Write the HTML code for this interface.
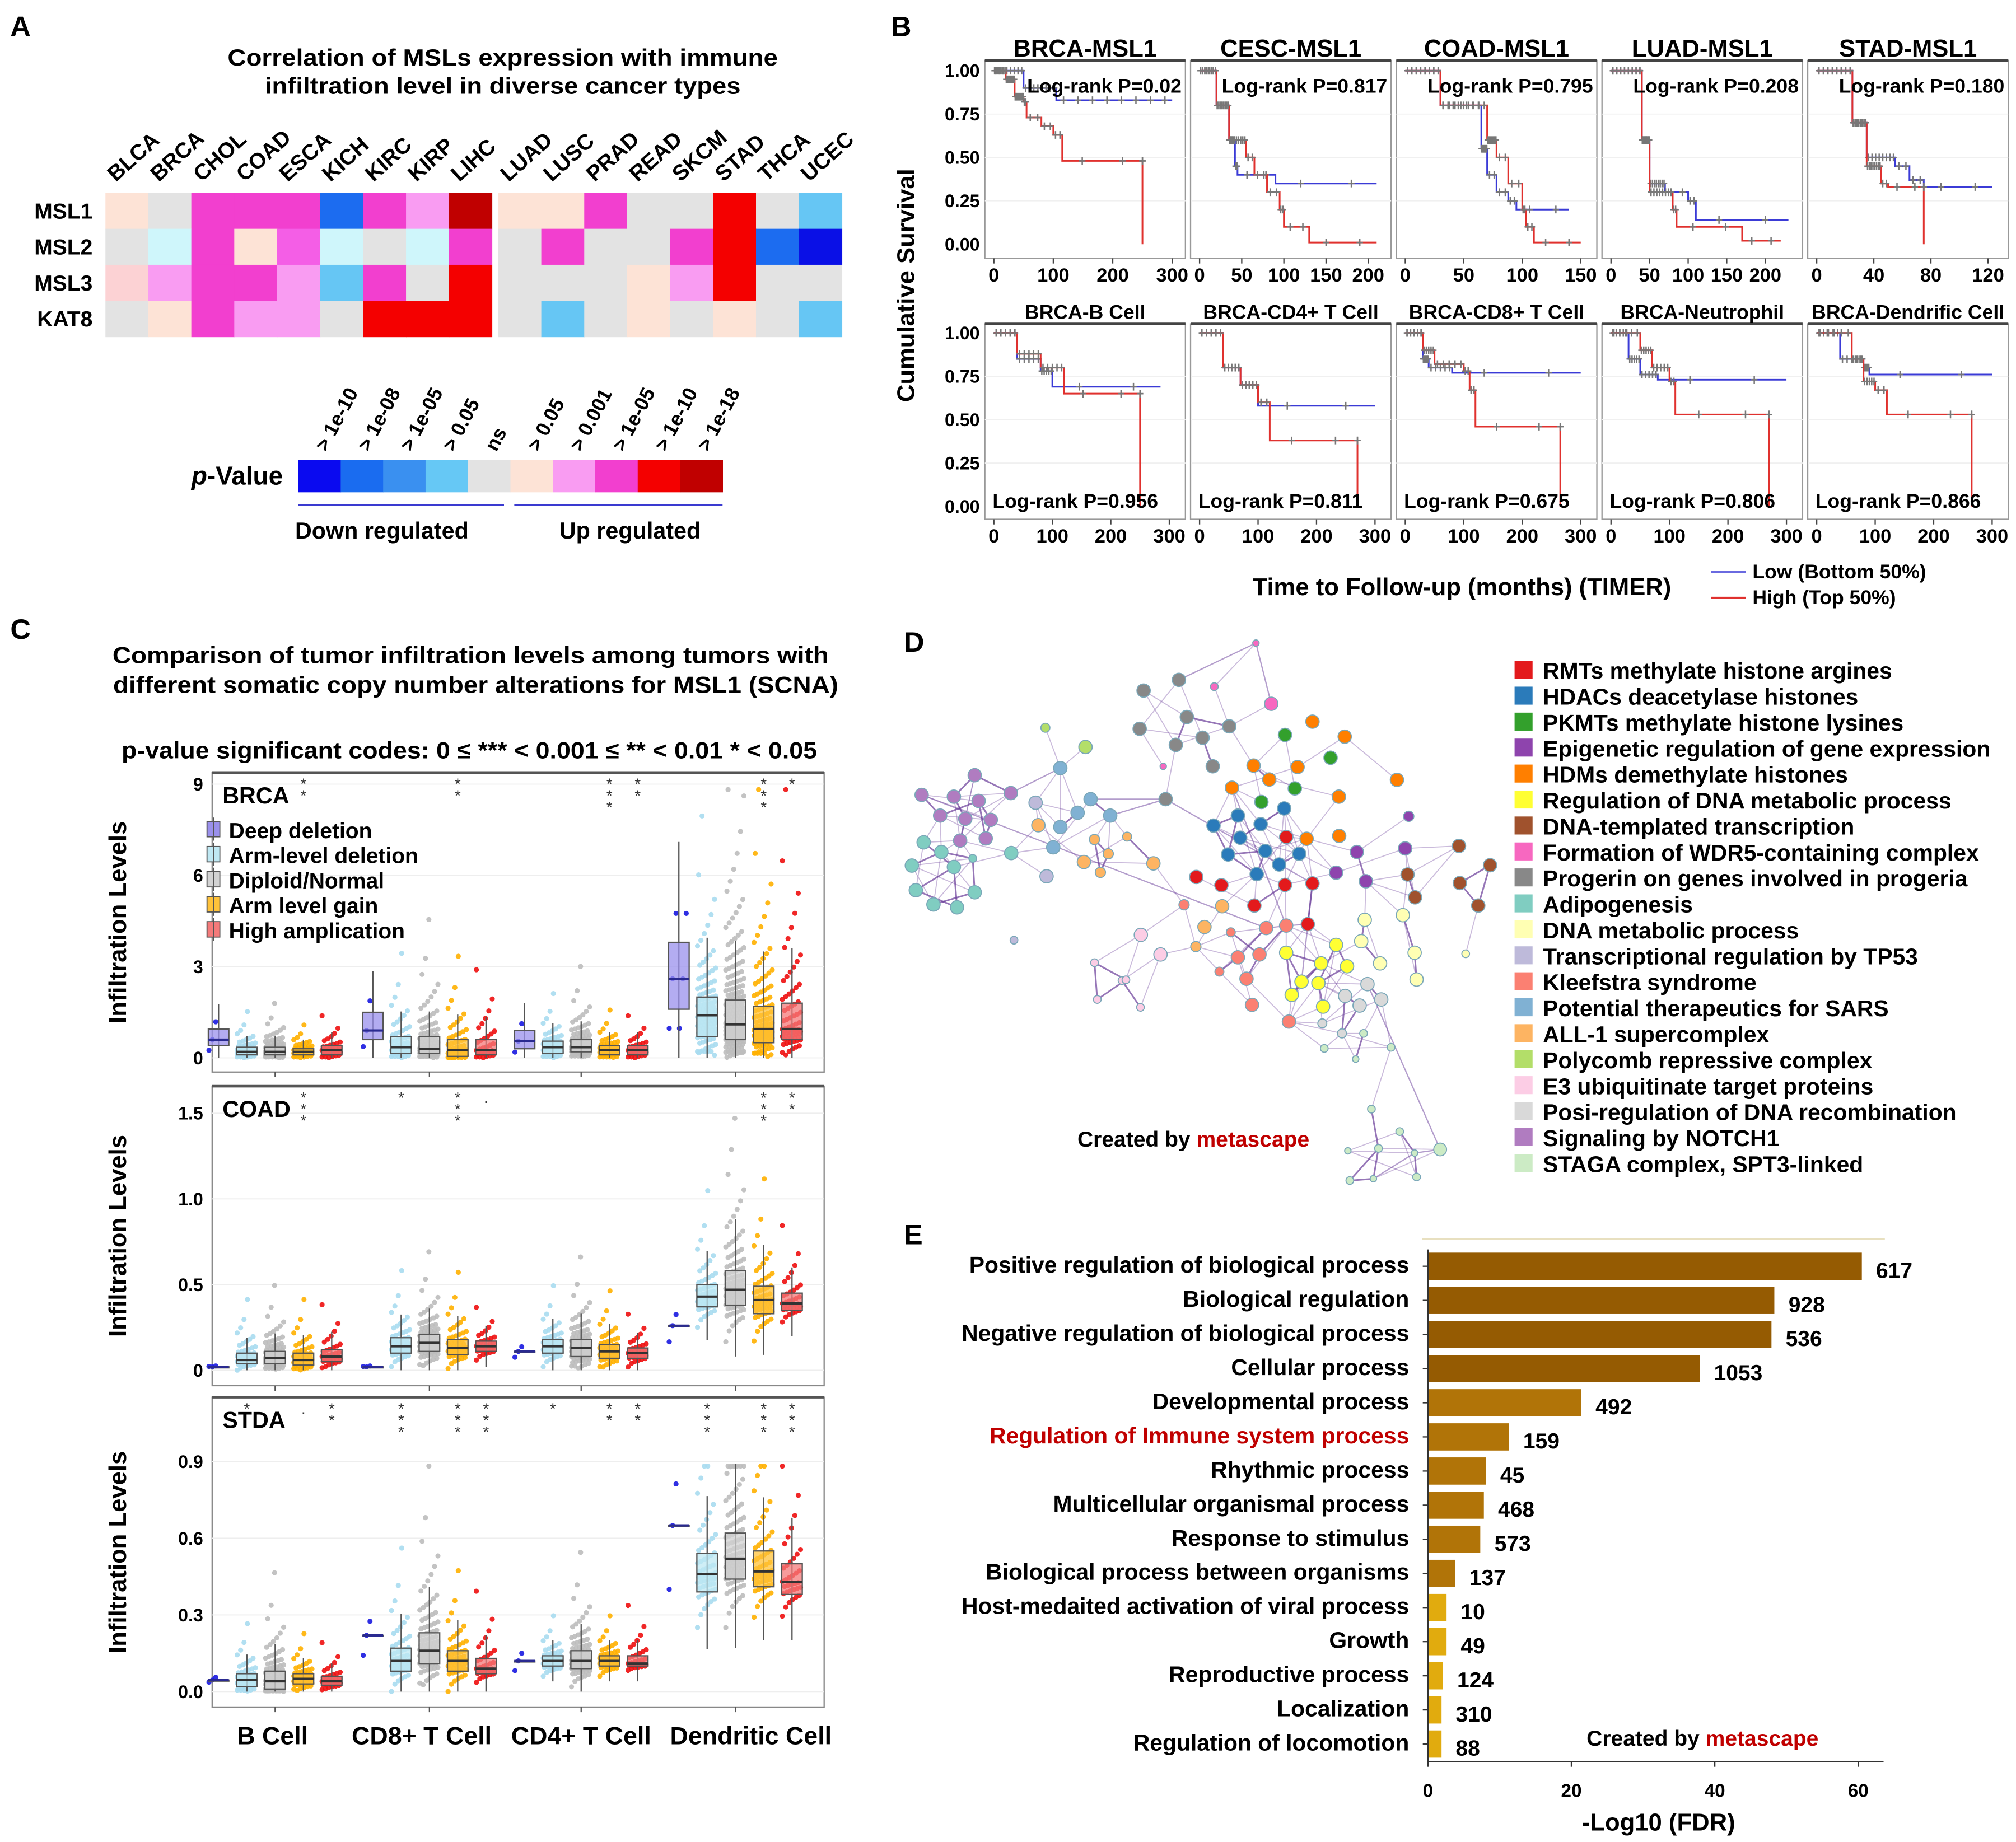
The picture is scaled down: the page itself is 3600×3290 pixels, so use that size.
<!DOCTYPE html>
<html><head><meta charset="utf-8">
<style>
html,body{margin:0;padding:0;background:#fff;}
svg{display:block;font-family:"Liberation Sans",Arial,sans-serif;}
</style></head>
<body>
<svg id="fig" xmlns="http://www.w3.org/2000/svg" width="3600" height="3290" viewBox="0 0 1568 1433" preserveAspectRatio="none">
<rect x="0" y="0" width="1568" height="1433" fill="#fff"/>
<g font-weight="bold" font-size="22">
<text x="8" y="28">A</text>
<text x="693" y="28">B</text>
<text x="8" y="497">C</text>
<text x="703" y="507">D</text>
<text x="703" y="968">E</text>
</g>
<g font-weight="bold" font-size="18" text-anchor="middle">
<text x="391" y="51" textLength="428" lengthAdjust="spacingAndGlyphs">Correlation of MSLs expression with immune</text>
<text x="391" y="73" textLength="370" lengthAdjust="spacingAndGlyphs">infiltration level in diverse cancer types</text>
<text x="366" y="516" textLength="557" lengthAdjust="spacingAndGlyphs">Comparison of tumor infiltration levels among tumors with</text>
<text x="370" y="539" textLength="564" lengthAdjust="spacingAndGlyphs">different somatic copy number alterations for MSL1 (SCNA)</text>
<text x="365" y="590" textLength="541" lengthAdjust="spacingAndGlyphs">p-value significant codes: 0  ≤  *** &lt; 0.001  ≤  ** &lt; 0.01  * &lt; 0.05</text>
</g>
<g id="gA"></g>
<g id="gB"></g>
<g id="gC"></g>
<g id="gD"></g>
<g id="gE"></g>
</svg>
<script>
// ---------- Panel A data ----------
const cancerTypes=["BLCA","BRCA","CHOL","COAD","ESCA","KICH","KIRC","KIRP","LIHC","LUAD","LUSC","PRAD","READ","SKCM","STAD","THCA","UCEC"];
const genes=["MSL1","MSL2","MSL3","KAT8"];
const rowMSL1="p g m m m B m l d p p m g g r g b".split(" ");
const rowMSL2="g c m p n c g c m g m g g m r B D".split(" ");
const rowMSL3="s l m m l b m g r g g g p l r g g".split(" ");
const rowKAT8="g p m l l g r r r g b g p g p g b".split(" ");
const pLegendLabels=["> 1e-10","> 1e-08","> 1e-05","> 0.05","ns","> 0.05","> 0.001","> 1e-05","> 1e-10","> 1e-18"];
// ---------- Panel B data ----------
const kmTitlesTop=["BRCA-MSL1","CESC-MSL1","COAD-MSL1","LUAD-MSL1","STAD-MSL1"];
const kmTitlesBottom=["BRCA-B Cell","BRCA-CD4+ T Cell","BRCA-CD8+ T Cell","BRCA-Neutrophil","BRCA-Dendrific Cell"];
const kmPvalsTop=["0.02","0.817","0.795","0.208","0.180"];
const kmPvalsBottom=["0.956","0.811","0.675","0.806","0.866"];
const kmMaxTop=[305,215,155,235,127];
const kmTicksTop=[[0,100,200,300],[0,50,100,150,200],[0,50,100,150],[0,50,100,150,200],[0,40,80,120]];
const kmTicksBottom=[0,100,200,300];
const lowT=[[0,50,105,300],[0,20,35,42,45,90,210],[0,30,65,70,78,88,95,140],[0,40,50,70,100,110,230],[0,25,35,55,65,75,123],
 [0,40,80,100,285],[0,40,70,100,300],[0,30,40,80,300],[0,30,50,80,300],[0,40,80,90,300]];
const lowS=[[1,0.9,0.83,0.83],[1,0.8,0.6,0.45,0.4,0.35,0.35],[1,0.8,0.55,0.4,0.3,0.25,0.2,0.2],[1,0.6,0.35,0.3,0.25,0.14,0.14],[1,0.7,0.5,0.45,0.37,0.33,0.33],
 [1,0.85,0.78,0.69,0.69],[1,0.8,0.7,0.58,0.58],[1,0.85,0.8,0.77,0.77],[1,0.85,0.76,0.73,0.73],[1,0.85,0.8,0.76,0.76]];
const highT=[[0,20,35,50,55,80,100,115,250,250],[0,20,35,55,65,80,95,100,130,210],[0,30,70,78,88,100,103,110,150],[0,40,50,80,85,170,220],[0,25,35,45,50,75,75],
 [0,40,80,120,250,250],[0,40,70,100,120,270,270],[0,30,50,100,110,120,265,265],[0,50,70,100,110,270,270],[0,60,80,100,120,265,265]];
const highS=[[1,0.95,0.85,0.82,0.73,0.68,0.63,0.48,0.48,0],[1,0.8,0.6,0.5,0.4,0.3,0.2,0.1,0.01,0.01],[1,0.8,0.6,0.5,0.35,0.2,0.1,0.01,0.01],[1,0.6,0.3,0.2,0.1,0.02,0.02],[1,0.7,0.45,0.35,0.33,0.33,0],
 [1,0.88,0.8,0.65,0.65,0],[1,0.8,0.7,0.6,0.38,0.38,0],[1,0.9,0.82,0.78,0.67,0.46,0.46,0],[1,0.9,0.8,0.72,0.53,0.53,0],[1,0.85,0.72,0.67,0.53,0.53,0]];
// ---------- Panel C data ----------
const cellTypes=["B Cell","CD8+ T Cell","CD4+ T Cell","Dendritic Cell"];
const scnaGroups=["Deep deletion","Arm-level deletion","Diploid/Normal","Arm level gain","High amplication"];
const boxTumors=["BRCA","COAD","STDA"];
const brcaQ1=[[0.4,0.1,0.1,0.1,0.1],[0.6,0.15,0.15,0.05,0.1],[0.3,0.15,0.2,0.1,0.1],[1.6,0.7,0.6,0.5,0.6]];
const brcaMed=[[0.6,0.2,0.2,0.2,0.25],[0.9,0.35,0.3,0.25,0.25],[0.55,0.35,0.35,0.25,0.25],[2.6,1.4,1.1,0.95,0.95]];
const brcaQ3=[[0.95,0.35,0.35,0.3,0.4],[1.5,0.7,0.7,0.6,0.6],[0.9,0.55,0.6,0.4,0.4],[3.8,2.0,1.9,1.7,1.8]];
const coadQ1=[[0.02,0.04,0.04,0.03,0.05],[0.02,0.1,0.11,0.09,0.11],[0.11,0.1,0.08,0.07,0.07],[0.26,0.37,0.38,0.33,0.35]];
const coadMed=[[0.02,0.06,0.07,0.06,0.08],[0.02,0.14,0.16,0.13,0.14],[0.11,0.14,0.13,0.11,0.1],[0.26,0.43,0.47,0.41,0.39]];
const coadQ3=[[0.02,0.1,0.11,0.1,0.12],[0.02,0.19,0.21,0.18,0.17],[0.11,0.18,0.18,0.15,0.13],[0.26,0.5,0.58,0.49,0.45]];
const stdaQ1=[[0.045,0.02,0.01,0.03,0.025],[0.22,0.08,0.11,0.08,0.07],[0.12,0.1,0.09,0.1,0.1],[0.65,0.39,0.44,0.41,0.38]];
const stdaMed=[[0.045,0.045,0.04,0.05,0.04],[0.22,0.12,0.16,0.12,0.09],[0.12,0.12,0.12,0.12,0.11],[0.65,0.46,0.52,0.47,0.43]];
const stdaQ3=[[0.045,0.07,0.08,0.07,0.06],[0.22,0.17,0.23,0.16,0.13],[0.12,0.14,0.16,0.14,0.14],[0.65,0.54,0.62,0.55,0.5]];
const yTicksBRCA=[0,3,6,9], yTicksCOAD=[0,0.5,1.0,1.5], yTicksSTDA=[0,0.3,0.6,0.9];
const yTickLabBRCA=["0","3","6","9"], yTickLabCOAD=["0","0.5","1.0","1.5"], yTickLabSTDA=["0.0","0.3","0.6","0.9"];
const starsBRCA=[[0,3,"**"],[1,3,"**"],[2,3,"***"],[2,4,"**"],[3,3,"***"],[3,4,"*"]];
const starsCOAD=[[0,3,"***"],[1,1,"*"],[1,3,"***"],[1,4,"."],[3,3,"***"],[3,4,"**"]];
const starsSTDA=[[0,1,"*"],[0,3,"."],[0,4,"**"],[1,1,"***"],[1,3,"***"],[1,4,"***"],[2,1,"*"],[2,3,"**"],[2,4,"**"],[3,1,"***"],[3,3,"***"],[3,4,"***"]];
// ---------- Panel D data ----------
const legendTerms=["RMTs methylate histone argines","HDACs deacetylase histones","PKMTs methylate histone lysines","Epigenetic regulation of gene expression","HDMs demethylate histones","Regulation of DNA metabolic process","DNA-templated transcription","Formation of WDR5-containing complex","Progerin on genes involved in progeria","Adipogenesis","DNA metabolic process","Transcriptional regulation by TP53","Kleefstra syndrome","Potential therapeutics for SARS","ALL-1 supercomplex","Polycomb repressive complex","E3 ubiquitinate target proteins","Posi-regulation of DNA recombination","Signaling by NOTCH1","STAGA complex, SPT3-linked"];
// ---------- Panel E data ----------
const goTerms=["Positive regulation of biological  process","Biological regulation","Negative regulation of biological process","Cellular process","Developmental process","Regulation of Immune system process","Rhythmic process","Multicellular organismal process","Response to stimulus","Biological process between organisms","Host-medaited activation of viral process","Growth","Reproductive process","Localization","Regulation of locomotion"];
const goFDR=[60.5,48.3,47.9,37.9,21.4,11.3,8.1,7.8,7.3,3.8,2.6,2.6,2.1,1.9,1.9];
const goCounts=[617,928,536,1053,492,159,45,468,573,137,10,49,124,310,88];
const goTicks=[0,20,40,60];

const NS="http://www.w3.org/2000/svg";
function mk(parent,tag,attrs,text){const e=document.createElementNS(NS,tag);for(const k in attrs)e.setAttribute(k,attrs[k]);if(text!==undefined)e.textContent=text;parent.appendChild(e);return e;}

// ================= Panel A =================
(function(){
const g=document.getElementById('gA');
const col={p:"#fde3d6",g:"#e3e3e3",m:"#f23fcf",B:"#1c6cf0",l:"#f99cf2",d:"#c00000",r:"#f40000",b:"#66c6f4",c:"#cff6fb",n:"#f45ee6",s:"#fcd2d4",D:"#0a10e6"};
const rows=[rowMSL1,rowMSL2,rowMSL3,rowKAT8];
const x0=82,cw=33.4,y0=150,rh=28;
function cx(i){return x0+i*cw+(i>=9?5:0);}
rows.forEach((row,r)=>{
  const t=mk(g,'text',{x:72,y:y0+r*rh+20,'text-anchor':'end','font-size':17,'font-weight':'bold'},genes[r]);
  
  row.forEach((k,i)=>{
    const c=mk(g,'rect',{x:cx(i),y:y0+r*rh,width:cw+0.3,height:rh+0.3,fill:col[k]});
    
  });
});
cancerTypes.forEach((n,i)=>{
  const x=cx(i)+8,y=142;
  const t=mk(g,'text',{x:x,y:y,'font-size':17,'font-weight':'bold',transform:`rotate(-42 ${x} ${y})`},n);
  
});
const lc=["#0a0af0","#1a6cf0","#3a90f0","#66c8f5","#e3e3e3","#fde3d6","#f99cf2","#f23fcf","#f40000","#c00000"];
lc.forEach((c,i)=>{
  const r=mk(g,'rect',{x:232+i*33,y:358,width:33.3,height:25,fill:c});
  
  const x=232+i*33+22,y=352;
  const t=mk(g,'text',{x:x,y:y,'font-size':15.5,'font-weight':'bold',transform:`rotate(-62 ${x} ${y})`},pLegendLabels[i]);
  
});
let t=mk(g,'text',{x:220,y:377,'text-anchor':'end','font-size':20,'font-weight':'bold'});
t.innerHTML='<tspan font-style="italic">p</tspan>-Value';

let l=mk(g,'line',{x1:232,y1:393,x2:392,y2:393,stroke:'#3a3ad0','stroke-width':1.2});

l=mk(g,'line',{x1:400,y1:393,x2:562,y2:393,stroke:'#3a3ad0','stroke-width':1.2});

t=mk(g,'text',{x:297,y:419,'text-anchor':'middle','font-size':18,'font-weight':'bold'},'Down regulated');

t=mk(g,'text',{x:490,y:419,'text-anchor':'middle','font-size':18,'font-weight':'bold'},'Up regulated');

})();

// ================= Panel B =================
(function(){
const g=document.getElementById('gB');
const lefts=[766,926,1086,1246,1406],pw=156;
function panel(idx,row){
  const left=lefts[idx%5], top=row?252:47, bottom=row?404:201;
  const yTop=row?259:55, yBot=row?394:190;
  const max=row?310:kmMaxTop[idx%5];
  const X=v=>left+7+v/max*(pw-15), Y=s=>yBot-(yBot-yTop)*s;
  const fr=mk(g,'rect',{x:left,y:top,width:pw,height:bottom-top,fill:'#fff',stroke:'#999','stroke-width':1});
  
  const tl=mk(g,'line',{x1:left,y1:top,x2:left+pw,y2:top,stroke:'#444','stroke-width':2});
  
  [0.25,0.5,0.75].forEach(s=>{const gl=mk(g,'line',{x1:left,x2:left+pw,y1:Y(s),y2:Y(s),stroke:'#f0f0f0','stroke-width':0.8});});
  const title=row?kmTitlesBottom[idx]:kmTitlesTop[idx];
  const tt=mk(g,'text',{x:left+pw/2,y:row?248:44,'text-anchor':'middle','font-size':row?15.5:19,'font-weight':'bold'},title);
  
  const ci=row?idx+5:idx;
  function curve(T,S,color,name){
    let d=`M${X(T[0])},${Y(S[0])}`;
    for(let i=1;i<T.length;i++){d+=` H${X(T[i])} V${Y(S[i])}`;}
    const p=mk(g,'path',{d:d,fill:'none',stroke:color,'stroke-width':1.3});
    
    for(let i=0;i<T.length-1;i++){
      const n=i<3?(row?5:8):2;
      for(let k=0;k<n;k++){
        const t=T[i]+(T[i+1]-T[i])*(k+0.5)/n, s=S[i];
        const c=mk(g,'path',{d:`M${X(t)-2.5},${Y(s)}h5M${X(t)},${Y(s)-3}v6`,stroke:'#777','stroke-width':1.1});
        
      }
    }
  }
  curve(lowT[ci],lowS[ci],'#3b3bd6','km-low-curve');
  curve(highT[ci],highS[ci],'#e0312e','km-high-curve');
  const pv=row?kmPvalsBottom[idx]:kmPvalsTop[idx];
  const lt=mk(g,'text',{x:row?left+6:left+pw-3,y:row?395:72,'text-anchor':row?'start':'end','font-size':15.5,'font-weight':'bold'},'Log-rank P='+pv);
  
  const ticks=row?kmTicksBottom:kmTicksTop[idx];
  ticks.forEach(v=>{
    const tk=mk(g,'line',{x1:X(v),x2:X(v),y1:bottom,y2:bottom+4,stroke:'#444'});
    
    const tx=mk(g,'text',{x:X(v),y:row?422:219,'text-anchor':'middle','font-size':15,'font-weight':'bold'},String(v));
    
  });
  if(idx===0){
    [0,0.25,0.5,0.75,1].forEach(s=>{
      const tx=mk(g,'text',{x:left-4,y:Y(s)+5,'text-anchor':'end','font-size':14,'font-weight':'bold'},s.toFixed(2));
      
    });
  }
}
for(let i=0;i<5;i++){panel(i,0);panel(i,1);}
let t=mk(g,'text',{x:711,y:222,'text-anchor':'middle','font-size':19,'font-weight':'bold',transform:'rotate(-90 711 222)'},'Cumulative Survival');

t=mk(g,'text',{x:1137,y:463,'text-anchor':'middle','font-size':19,'font-weight':'bold'},'Time to Follow-up (months) (TIMER)');

let l=mk(g,'line',{x1:1331,x2:1358,y1:445,y2:445,stroke:'#6a6ae0','stroke-width':1.5});

l=mk(g,'line',{x1:1331,x2:1358,y1:465,y2:465,stroke:'#e0312e','stroke-width':1.5});

t=mk(g,'text',{x:1363,y:450,'font-size':15.5,'font-weight':'bold'},'Low (Bottom 50%)');

t=mk(g,'text',{x:1363,y:470,'font-size':15.5,'font-weight':'bold'},'High (Top 50%)');

})();

// ================= Panel C =================
(function(){
const g=document.getElementById('gC');
const groupX=[[170,192,214,236,258],[290,312,334,356,378],[408,430,452,474,496],[528,550,572,594,616]];
const fills=["#9a90ec","#bfe8f3","#d2d2d2","#ffc23a","#f47a7a"];
const dots=["#1818e0","#a8dcef","#bcbcbc","#ffb000","#ee1010"];
const counts=[3,55,100,55,35];
const panels=[
 {top:601,bot:834,y0:823,y1:610,max:9,q1:brcaQ1,md:brcaMed,q3:brcaQ3,ticks:yTicksBRCA,lab:yTickLabBRCA,stars:starsBRCA,name:boxTumors[0]},
 {top:845,bot:1078,y0:1066,y1:866,max:1.5,q1:coadQ1,md:coadMed,q3:coadQ3,ticks:yTicksCOAD,lab:yTickLabCOAD,stars:starsCOAD,name:boxTumors[1]},
 {top:1087,bot:1328,y0:1316,y1:1137,max:0.9,q1:stdaQ1,md:stdaMed,q3:stdaQ3,ticks:yTicksSTDA,lab:yTickLabSTDA,stars:starsSTDA,name:boxTumors[2]}];
panels.forEach((P,pi)=>{
  const Y=v=>P.y0-(P.y0-P.y1)*v/P.max;
  const fr=mk(g,'rect',{x:165,y:P.top,width:476,height:P.bot-P.top,fill:'#fff',stroke:'#888','stroke-width':1});
  
  const tl=mk(g,'line',{x1:165,x2:641,y1:P.top,y2:P.top,stroke:'#555','stroke-width':2});
  
  P.ticks.forEach((v,i)=>{
    const gl=mk(g,'line',{x1:165,x2:641,y1:Y(v),y2:Y(v),stroke:'#eeeeee','stroke-width':0.8});
    
    const tx=mk(g,'text',{x:158,y:Y(v)+5,'text-anchor':'end','font-size':14,'font-weight':'bold'},P.lab[i]);
    
  });
  const cyy=(P.top+P.bot)/2;
  const yt=mk(g,'text',{x:98,y:cyy,'text-anchor':'middle','font-size':19,'font-weight':'bold',transform:`rotate(-90 98 ${cyy})`},'Infiltration Levels');
  
  const nm=mk(g,'text',{x:173,y:P.top+24,'font-size':18,'font-weight':'bold'},P.name);
  
  for(let c=0;c<4;c++){
    for(let b=0;b<5;b++){
      const x=groupX[c][b], q1=P.q1[c][b], md=P.md[c][b], q3=P.q3[c][b];
      const iqr=q3-q1;
      const n=(pi===0&&c===3)?counts[b]*2:counts[b];
      for(let k=0;k<n;k++){
        const u=(k+0.5)/n;
        let z=Math.log(u/(1-u))/Math.log(3);
        let v=z>=0?md+z*(q3-md)*(1+0.25*z):md+z*(md-q1)*0.7;
        if(b===0) v=[q1*0.6+0.01,md,q3*1.25][k%3];
        if(v<0)v=Math.max(0,q1*0.3);
        if(v>P.max*0.98)v=P.max*0.98;
        const jx=(((k*37)%17)/17-0.5)*15;
        const dt=mk(g,'circle',{cx:x+jx,cy:Y(v),r:2,fill:dots[b],opacity:0.9});
        
      }
      const wlo=Math.max(0,q1-1.5*iqr), whi=q3+1.5*iqr;
      const wk=mk(g,'line',{x1:x,x2:x,y1:Y(wlo),y2:Y(Math.min(whi,P.max)),stroke:'#555','stroke-width':1});
      
      const bx=mk(g,'rect',{x:x-8,y:Y(q3),width:16,height:Math.max(0.8,Y(q1)-Y(q3)),fill:fills[b],'fill-opacity':0.75,stroke:'#555','stroke-width':1});
      
      const ml=mk(g,'line',{x1:x-8,x2:x+8,y1:Y(md),y2:Y(md),stroke:b===0?'#2a2a90':'#333','stroke-width':1.8});
      
    }
    const tk=mk(g,'line',{x1:groupX[c][2],x2:groupX[c][2],y1:P.bot,y2:P.bot+4,stroke:'#555'});
    
  }
  P.stars.forEach(s=>{
    const x=groupX[s[0]][s[1]];
    const str=s[2];
    for(let j=0;j<str.length;j++){
      const st=mk(g,'text',{x:x,y:P.top+13+j*9,'text-anchor':'middle','font-size':12,fill:'#333'},str[j]);
      
    }
  });
});
cellTypes.forEach((n,i)=>{
  const t=mk(g,'text',{x:[212,328,452,584][i],y:1357,'text-anchor':'middle','font-size':19.5,'font-weight':'bold'},n);
  
});
scnaGroups.forEach((n,i)=>{
  const y=646+i*19.5;
  const ic=mk(g,'rect',{x:161,y:y-7,width:10,height:12,fill:fills[i],stroke:'#555','stroke-width':0.8});
  
  const ln=mk(g,'line',{x1:166,x2:166,y1:y-10,y2:y+8,stroke:'#555','stroke-width':0.8});
  
  const t=mk(g,'text',{x:178,y:y+6,'font-size':17,'font-weight':'bold'},n);
  
});
})();

// ================= Panel D =================
(function(){
const g=document.getElementById('gD');
const C={R:"#e31a1c",B:"#2b7bba",G:"#33a02c",P:"#8e44ad",O:"#ff7f00",W:"#ffff33",N:"#a0522d",k:"#f768c0",g:"#888888",T:"#80cdc1",X:"#ffffb3",L:"#bebada",S:"#fb8072",A:"#80b1d3",Q:"#fdb462",Y:"#b3de69",K:"#fccde5",Z:"#d9d9d9",V:"#b07cc0",CC:"#ccebc5"};
const legendKeys=["R","B","G","P","O","W","N","k","g","T","X","L","S","A","Q","Y","K","Z","V","CC"];
const nodes=[
["g",630,178],["g",720,148],["g",740,252],["g",620,285],["g",712,330],["g",780,310],["g",848,278],["g",806,390],["g",686,482],
["k",810,167,3],["k",955,215],["k",916,45,2.5],["k",680,390,2.5],
["O",1060,265],["O",1142,307],["O",910,388],["O",1022,392],["O",950,427],["O",855,450],["O",1127,475],["O",1275,428],["O",1045,593],["O",1128,585],
["G",990,302],["G",1106,366],["G",1015,452],["G",930,490],
["B",988,508],["B",870,528],["B",928,552],["B",808,556],["B",876,590],["B",940,627],["B",1026,635],["B",845,637],["B",975,665],["B",918,692],
["R",764,700],["R",828,723],["R",990,722],["R",1060,718],["R",912,780],["R",1048,832],["R",993,588],
["P",1305,530,4],["P",1296,620],["P",1173,630],["P",1120,688],["P",1196,712],
["N",1433,613],["N",1512,667],["N",1302,693],["N",1435,717],["N",1321,757],["N",1482,780],
["V",200,415],["V",65,470],["V",147,475],["V",210,487],["V",292,465],["V",112,528],["V",176,537],["V",241,540],["V",163,598],["V",228,592],
["T",70,603],["T",115,630],["T",147,672],["T",40,668],["T",293,633],["T",195,648,3],["T",50,737],["T",95,777],["T",155,785],["T",200,743],
["L",355,492],["L",383,698],["L",300,877,3],
["A",418,395],["A",495,482],["A",462,520],["A",545,528],["A",418,560],["A",400,617],
["Q",362,555],["Q",505,595,4],["Q",588,587,3.5],["Q",540,635,4],["Q",478,658],["Q",520,687,4],["Q",655,662],["Q",830,782],["Q",785,840],["Q",763,895,4],
["Y",380,282,3.5],["Y",482,336],
["S",733,778,4],["S",852,855,3.5],["S",942,843],["S",993,836],["S",870,925],["S",925,917],["S",823,965,3.5],["S",892,985],["S",906,1058],["S",1000,1105],
["W",993,912],["W",1120,890],["W",1082,942],["W",1148,950],["W",1032,993],["W",1075,997],["W",1007,1030],["W",1087,1063],
["X",1193,820],["X",1290,807],["X",1184,880],["X",1320,912],["X",1232,942],["X",1325,987],["X",1450,915,3],
["Z",1200,1000],["Z",1143,1033],["Z",1235,1043],["Z",1180,1060],["Z",1085,1110,3.5],["Z",1135,1138,3.5],
["K",623,862],["K",673,917],["K",505,940,3],["K",575,990,3],["K",512,1043,3],["K",622,1065,3],["K",585,988,3],
["CC",1090,1180,3],["CC",1170,1210,2.5],["CC",1260,1177,3],["CC",1190,1138,3],["CC",1210,1350,3],["CC",1282,1413,3],["CC",1385,1463,5],["CC",1150,1467,2.5],["CC",1228,1460,3],["CC",1320,1473,2.5],["CC",1155,1550,3],["CC",1325,1540,3],["CC",1215,1545,2.5]];
const px=n=>697+n[1]*0.3055, py=n=>487.8+n[2]*0.2778;
const eg=mk(g,'g',{});

for(let i=0;i<nodes.length;i++)for(let j=i+1;j<nodes.length;j++){
  const dx=nodes[i][1]-nodes[j][1],dy=nodes[i][2]-nodes[j][2],d=Math.sqrt(dx*dx+dy*dy);
  const same=nodes[i][0]===nodes[j][0];
  if(d<(same?190:140)&&((i*7+j*3)%(same?2:3)===0)){
    const e=mk(eg,'line',{x1:px(nodes[i]),y1:py(nodes[i]),x2:px(nodes[j]),y2:py(nodes[j]),stroke:'#6a3d9a','stroke-width':same&&d<120?1.3:0.8,opacity:same&&d<120?0.7:0.35});
    
  }
}
[[8,79],[8,40],[18,99],[40,110],[121,140],[59,78],[81,8],[98,56],[143,146],[140,143],[1,11],[11,10]].forEach(p=>{
  const a=nodes[p[0]],b=nodes[p[1]];
  const e=mk(eg,'line',{x1:px(a),y1:py(a),x2:px(b),y2:py(b),stroke:'#6a3d9a','stroke-width':1,opacity:0.5});
  
});
nodes.forEach(n=>{
  const c=mk(g,'circle',{cx:px(n),cy:py(n),r:n[3]||5.2,fill:C[n[0]],stroke:'#7aa7b8','stroke-width':0.8});
  
});
let t=mk(g,'text',{x:838,y:892,'font-size':17,'font-weight':'bold'});
t.innerHTML='Created by <tspan fill="#c00000">metascape</tspan>';

legendTerms.forEach((n,i)=>{
  const y=522+i*20.2;
  const r=mk(g,'rect',{x:1178,y:y-8,width:14,height:14,fill:C[legendKeys[i]]});
  
  const tx=mk(g,'text',{x:1200,y:y+6,'font-size':17.8,'font-weight':'bold'},n);
  
});
})();

// ================= Panel E =================
(function(){
const g=document.getElementById('gE');
const x0=1110.6, sc=(1445.3-1110.6)/60, X=v=>x0+v*sc;
const y0=985.1, step=26.55, bh=21.2, axisY=1370.5;
const barColors=i=>i<4?"#955b02":(i<10?"#b17408":"#e1ab0e");
let l=mk(g,'line',{x1:1106,x2:1466,y1:964,y2:964,stroke:'#e8e0c0','stroke-width':1.5});

goTerms.forEach((n,i)=>{
  const cy=y0+i*step;
  const b=mk(g,'rect',{x:x0,y:cy-bh/2,width:X(goFDR[i])-x0,height:bh,fill:barColors(i)});
  
  const tk=mk(g,'line',{x1:x0-4,x2:x0,y1:cy,y2:cy,stroke:'#333'});
  
  const t=mk(g,'text',{x:1096,y:cy+5,'text-anchor':'end','font-size':17.8,'font-weight':'bold',fill:i===5?'#c00000':'#000'},n);
  
  const v=mk(g,'text',{x:X(goFDR[i])+11,y:cy+9,'font-size':17,'font-weight':'bold'},String(goCounts[i]));
  
});
l=mk(g,'line',{x1:x0,x2:x0,y1:972,y2:axisY,stroke:'#333','stroke-width':1.2});

l=mk(g,'line',{x1:x0,x2:1465,y1:axisY,y2:axisY,stroke:'#333','stroke-width':1.2});

goTicks.forEach(v=>{
  const tk=mk(g,'line',{x1:X(v),x2:X(v),y1:axisY,y2:axisY+4,stroke:'#333'});
  
  const tx=mk(g,'text',{x:X(v),y:1398,'text-anchor':'middle','font-size':14.5,'font-weight':'bold'},String(v));
  
});
let t=mk(g,'text',{x:1290,y:1424,'text-anchor':'middle','font-size':19,'font-weight':'bold'},'-Log10 (FDR)');

t=mk(g,'text',{x:1234,y:1358,'font-size':17,'font-weight':'bold'});
t.innerHTML='Created by <tspan fill="#c00000">metascape</tspan>';

})();
</script>
</body></html>
